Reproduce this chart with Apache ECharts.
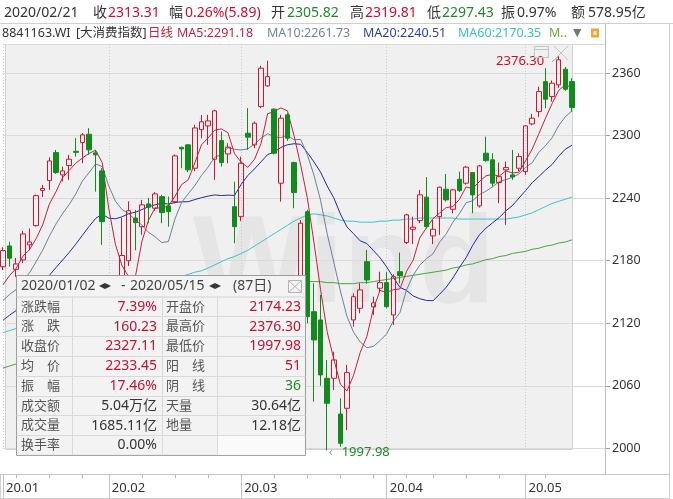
<!DOCTYPE html>
<html><head><meta charset="utf-8">
<script src="https://cdn.jsdelivr.net/npm/echarts@6/dist/echarts.min.js"></script>
<style>html,body{margin:0;padding:0;background:#fff}#c{width:673px;height:499px}</style>
</head><body><div id="c"></div>
<script>
// ---------- DATA ----------
const dates = [
 '2020-01-02','2020-01-03','2020-01-06','2020-01-07','2020-01-08','2020-01-09','2020-01-10','2020-01-13','2020-01-14','2020-01-15',
 '2020-01-16','2020-01-17','2020-01-20','2020-01-21','2020-01-22','2020-01-23',
 '2020-02-03','2020-02-04','2020-02-05','2020-02-06','2020-02-07','2020-02-10','2020-02-11','2020-02-12','2020-02-13','2020-02-14',
 '2020-02-17','2020-02-18','2020-02-19','2020-02-20','2020-02-21','2020-02-24','2020-02-25','2020-02-26','2020-02-27','2020-02-28',
 '2020-03-02','2020-03-03','2020-03-04','2020-03-05','2020-03-06','2020-03-09','2020-03-10','2020-03-11','2020-03-12','2020-03-13',
 '2020-03-16','2020-03-17','2020-03-18','2020-03-19','2020-03-20','2020-03-23','2020-03-24','2020-03-25','2020-03-26','2020-03-27',
 '2020-03-30','2020-03-31',
 '2020-04-01','2020-04-02','2020-04-03','2020-04-07','2020-04-08','2020-04-09','2020-04-10','2020-04-13','2020-04-14','2020-04-15',
 '2020-04-16','2020-04-17','2020-04-20','2020-04-21','2020-04-22','2020-04-23','2020-04-24','2020-04-27','2020-04-28','2020-04-29',
 '2020-04-30',
 '2020-05-06','2020-05-07','2020-05-08','2020-05-11','2020-05-12','2020-05-13','2020-05-14','2020-05-15'
];
const opens = [
 2174.23,2194.2,2171.8,2180.8,2195.2,2213.7,2247.5,2256.9,2283.8,2262.4,
 2271.3,2285,2293.4,2301.4,2283.5,2266.2,2040,2070,2125,2180,
 2221,2212.7,2234.5,2230.4,2241.5,2232.6,2236.7,2288.8,2291.2,2268.8,
 2305.82,2309.4,2277.4,2295.3,2282.5,2231.9,2222.3,2302.4,2291.2,2327.9,
 2347.8,2325.5,2254.4,2320,2274.2,2160,2227.1,2131.1,2123.2,2067.2,
 2067.2,2032.9,2038.4,2123.2,2134.4,2179.1,2135.7,2153.6,2159,2128,
 2169.5,2197.4,2210.2,2218.5,2241,2203.8,2222.3,2248.6,2229.4,2258.2,
 2254.4,2264.6,2232.6,2283.2,2276.8,2255,2267.2,2262.4,2268.8,2265.5,
 2311.3,2323.1,2351.9,2337.5,2348.8,2363.8,2351.9
];
const closes = [
 2189.7,2182.4,2176.9,2205.7,2198,2242.5,2249.4,2275.8,2264.6,2266.2,
 2277.4,2284,2300.8,2286.4,2281.6,2217.5,2062,2130,2185,2228,
 2216.6,2233.6,2231.4,2244.1,2226.2,2227.1,2280.6,2287.3,2267.2,2307.42,
 2313.31,2314.2,2323.8,2274.2,2289,2212.7,2273.6,2298.6,2312,2364.8,
 2356.7,2283.2,2316.8,2297.6,2245.4,2216,2126.3,2104,2070.4,2043.2,
 2084.8,2004.8,2072.6,2145.5,2152,2161.6,2139.5,2159,2135.9,2164.7,
 2165.7,2224,2212.2,2243.2,2212.7,2210.2,2250.6,2238.4,2248,2247.3,
 2269.8,2243.2,2271,2276.1,2254.4,2260.7,2269.4,2260.4,2280,2309.4,
 2316.8,2342.3,2335,2350.4,2372.8,2344.6,2327.11
];
const lows = [
 2171,2174.3,2164.5,2177.9,2190,2212.7,2241.2,2248,2263.3,2256,
 2257.6,2279.9,2273.6,2281.6,2246.3,2195.2,2030,2060,2118,2175,
 2190,2205,2216,2228,2216,2212.7,2235,2268.8,2265,2266,
 2297.43,2291.2,2257.6,2270.3,2273.6,2196.8,2218,2286.4,2288,2326.4,
 2347,2282,2236.7,2295,2230.4,2150,2120,2044.7,2060,1997.98,
 2056,2001.5,2017.6,2116.7,2129.6,2158,2128,2150,2134.4,2118.4,
 2158.4,2196,2196.1,2216,2211,2196,2204.8,2236.7,2225.6,2246,
 2253,2225.6,2231,2275,2251.1,2235.2,2214.4,2257.6,2266,2262.4,
 2310,2317.8,2326.4,2332.7,2346,2343,2323.1
];
const highs = [
 2193,2198.3,2182.7,2208.6,2211,2243.5,2252.8,2279.3,2286.4,2270.3,
 2281.6,2297.6,2302.5,2307.2,2286.4,2268.8,2075,2135,2221,2237,
 2228.8,2238.4,2240.3,2246,2243.2,2241.5,2282,2289.5,2292,2310.4,
 2319.81,2320,2324.8,2303.9,2292.8,2255.9,2280,2326.4,2313.6,2367,
 2372,2326.4,2320,2321.6,2275,2219,2229,2158.4,2147.2,2084.8,
 2092.7,2048,2080,2148.8,2158.4,2190.4,2145.5,2169.5,2169.5,2167,
 2187.8,2225,2222.3,2248,2260.2,2219.2,2251,2263.3,2249,2265.5,
 2271,2265,2272,2299.1,2283.2,2274.2,2275.2,2286.4,2283,2310,
 2320.9,2347.1,2364.8,2353,2376.3,2366,2355.2
];
// closes of the 19 sessions before 2020-01-02 (estimated from where the MA lines start)
const prevCloses = [2085,2088,2092,2096,2100,2102,2108,2115,2122,2132,2124,2130,2118,2126,2136,2138,2142,2148,2166.88];
// MA60 (cyan) and M.. (green) lines
const ma60 = [
 2111,2113,2115,2117,2119,2121,2123,2126,2128,2131,2133,2136,2138,2141,2143,2145,2144,2145,2147,2149,
 2151,2153,2155,2157,2159,2161,2163,2165,2167,2169,2170.35,2173,2176,2179,2182,2184,2187,2190,2194,2198,
 2202,2206,2210,2214,2218,2221,2224,2225,2224,2223,2221,2219,2218,2218,2217,2217,2217,2218,2218,2219,
 2219,2220,2220,2221,2221,2221,2221,2221,2221,2220,2220,2220,2220,2220,2220,2220,2220,2221,2222,2224,
 2226,2229,2232,2235,2237,2239,2241
];
const ma120 = [
 2077,2079,2081,2083,2085,2087,2089,2091,2093,2095,2097,2099,2101,2103,2105,2107,2108,2109,2111,2113,
 2115,2117,2119,2121,2123,2125,2127,2129,2131,2133,2135,2137,2139,2141,2143,2145,2147,2149,2151,2153,
 2155,2156,2157,2158,2159,2160,2160,2160,2160,2159,2159,2158,2158,2158,2159,2159,2160,2161,2162,2163,
 2164,2165,2166,2167,2168,2169,2170,2171,2173,2174,2176,2177,2179,2181,2182,2184,2185,2187,2188,2189,
 2191,2192,2194,2195,2197,2198,2200
];
const padSlots = ['p1','p2','p3','p4','p5'];
const monthTickLabels = ['20.01','20.02','20.03','20.04','20.05'];

const headerDate = '2020/02/21';
const headerLabels = ['收','幅','开','高','低','振','额'];
const headerValues = ['2313.31','0.26%(5.89)','2305.82','2319.81','2297.43','0.97%','578.95亿'];
const headerTones  = ['up','up','down','up','down','flat','flat'];

const legendTexts = ['8841163.WI','[大消费指数]','日线','MA5:2291.18','MA10:2261.73','MA20:2240.51','MA60:2170.35','M..'];

const statsRange = ['2020/01/02','2020/05/15','(87日)'];
const statsLeftLabels  = ['涨跌幅','涨\u3000跌','收盘价','均\u3000价','振\u3000幅','成交额','成交量','换手率'];
const statsLeftValues  = ['7.39%','160.23','2327.11','2233.45','17.46%','5.04万亿','1685.11亿','0.00%'];
const statsLeftTones   = ['up','up','up','up','up','flat','flat','flat'];
const statsRightLabels = ['开盘价','最高价','最低价','阳\u3000线','阴\u3000线','天量','地量',''];
const statsRightValues = ['2174.23','2376.30','1997.98','51','36','30.64亿','12.18亿',''];
const statsRightTones  = ['up','up','up','up','down','flat','flat','flat'];

// ---------- STYLE / LAYOUT ----------
const FONT = '"Noto Sans", "Noto Sans CJK SC", sans-serif';
const RED = '#d3142f', GREEN = '#138a1e';
const TONE = {up:'#c8102e', down:'#1f8a2a', flat:'#333333'};
const LINE_COLORS = {ma5:'#c4213c', ma10:'#6b8099', ma20:'#1f2b9e', ma60:'#3fc3c9', ma120:'#4aa43f'};
const LEGEND_COLORS = ['#333','#333','#cc2233',LINE_COLORS.ma5,'#6c85a0','#2a3fb0','#3cc0c0','#6aaa3a'];
const LEGEND_X = [2,76,148,177,267,363,458,549];
const HEADER_LABEL_X = [93,169,271,350,427,501,571];
const HEADER_VALUE_X = [108,185,287,365,442,517,588];
const Y_MIN = 2000, Y_MAX = 2388;

// ---------- derived ----------
const allCats = dates.concat(padSlots);
const candles = opens.map((o,i)=>[o, closes[i], lows[i], highs[i]]);
function movingAverage(n){
  const all = prevCloses.concat(closes);
  return closes.map((c,i)=>{
    const end = prevCloses.length + i + 1;
    const s = all.slice(end-n, end);
    return +(s.reduce((a,b)=>a+b,0)/n).toFixed(2);
  });
}
const ma5 = movingAverage(5), ma10 = movingAverage(10), ma20 = movingAverage(20);
const monthStartIdx = dates.map((d,i)=> (i===0 || d.slice(0,7)!==dates[i-1].slice(0,7)) ? i : -1).filter(i=>i>=0);
const weekStartIdx = dates.map((d,i)=>{
  if(i===0) return -1;
  const a = new Date(dates[i-1]+'T00:00:00Z'), b = new Date(d+'T00:00:00Z');
  return (b.getUTCDay() <= a.getUTCDay() || (b-a) > 6*864e5) ? i : -1;
}).filter(i=>i>=0 && monthStartIdx.indexOf(i)<0);
const hiIdx = highs.indexOf(Math.max(...highs));
const loIdx = lows.indexOf(Math.min(...lows));

// ---------- graphic decorations ----------
const G = [];
function line(x1,y1,x2,y2,stroke,z,dash){G.push({type:'line',silent:true,z:z||50,shape:{x1,y1,x2,y2},style:{stroke,lineWidth:1,lineDash:dash||null}});}
function rect(x,y,w,h,fill,stroke,z){G.push({type:'rect',silent:true,z:z||50,shape:{x,y,width:w,height:h},style:{fill:fill||'none',stroke:stroke||null,lineWidth:1}});}
function text(t,x,y,color,size,align,z,extra){G.push({type:'text',silent:true,z:z||50,x,y,style:Object.assign({text:t,fill:color,fontSize:size,fontFamily:FONT,align:align||'left',verticalAlign:'middle'},extra||{})});}

// grey selection panel + watermark (behind everything)
rect(5.5,44.5,567,405,'#f0f0f0','#d2d2d2',-10);
G.push({type:'text',silent:true,z:-5,x:193,y:268,style:{text:'Wind',fill:'#e5e5e5',fontSize:124,fontWeight:'bold',fontFamily:'"Liberation Sans", Arial, sans-serif',align:'left',verticalAlign:'middle'}});
// panel icons
rect(534.5,46.5,14,11,'none','#c4c4c4',6);
line(534.5,49.5,548.5,49.5,'#c4c4c4',6);
line(554,46,568,60,'#c4c4c4',6); line(568,46,554,60,'#c4c4c4',6);

// frame
line(0,23.5,673,23.5,'#cfcfcf');
line(605.5,23.5,605.5,474.5,'#bdbdbd');
line(669.5,23.5,669.5,498.5,'#cfcfcf');
line(0,474.5,669.5,474.5,'#c4c4c4');
line(0,498.5,669.5,498.5,'#cfcfcf');
line(0.5,474.5,0.5,498.5,'#cfcfcf');

// header row
text(headerDate,4,13,'#333',14);
headerLabels.forEach((l,i)=>{
  text(l,HEADER_LABEL_X[i],13,'#333',14);
  text(headerValues[i],HEADER_VALUE_X[i],13,TONE[headerTones[i]],14);
});
// legend row
legendTexts.forEach((t,i)=> text(t,LEGEND_X[i],33,LEGEND_COLORS[i],12.5));
text('▼',573,33,'#777',11,'left',50,{fontFamily:'"DejaVu Sans", sans-serif'});
rect(591,28.5,8,9,'#f2a531',null);
rect(593.5,31,3,4,'#fff5dd',null);

// stats box
const BX0=16, BX1=305, BY0=275, TH=21.5, RH=19.8;
const COLX=[16,71.7,161.7,216.7,305];
const ZB=100;
rect(BX0+0.5,BY0+0.5,BX1-BX0,TH+RH*8,'#f3f3f3','#9c9c9c',ZB);
rect(216.7,BY0+TH+RH*7+0.5,BX1-216.7,RH-0.5,'#fafafa',null,ZB+1);
line(BX0+0.5,BY0+TH+0.5,BX1+0.5,BY0+TH+0.5,'#d3d3d3',ZB+2);
for(let r=1;r<8;r++){ const y=Math.round(BY0+TH+RH*r)+0.5; line(BX0+0.5,y,BX1+0.5,y,'#d9d9d9',ZB+2); }
for(let c=1;c<4;c++){ const x=Math.round(COLX[c])+0.5; line(x,BY0+TH,x,BY0+TH+RH*8,'#d9d9d9',ZB+2); }
text(statsRange[0],21,286,'#444',14,'left',ZB+3);
text('◂▸',99,286,'#333',12,'left',ZB+3,{fontFamily:'"DejaVu Sans", sans-serif'});
text('-',121,286,'#444',14,'left',ZB+3);
text(statsRange[1],130,286,'#444',14,'left',ZB+3);
text('◂▸',209,286,'#333',12,'left',ZB+3,{fontFamily:'"DejaVu Sans", sans-serif'});
text(statsRange[2],233,286,'#444',14,'left',ZB+3);
rect(288.5,280.5,13,12,'none','#b4b4b4',ZB+3);
line(289,281,301,292,'#b4b4b4',ZB+3); line(301,281,289,292,'#b4b4b4',ZB+3);
for(let r=0;r<8;r++){
  const y = BY0+TH+RH*r+RH/2+0.5;
  text(statsLeftLabels[r],21,y,'#555',13,'left',ZB+3);
  text(statsLeftValues[r],157,y,TONE[statsLeftTones[r]],14,'right',ZB+3);
  if(statsRightLabels[r]) text(statsRightLabels[r],166,y,'#555',13,'left',ZB+3);
  if(statsRightValues[r]) text(statsRightValues[r],301,y,TONE[statsRightTones[r]],14,'right',ZB+3);
}

// ---------- chart ----------
const chart = echarts.init(document.getElementById('c'), null, {renderer:'canvas'});
const maSeries = [['ma120',ma120],['ma60',ma60],['ma20',ma20],['ma10',ma10],['ma5',ma5]].map(([k,d])=>({
  type:'line', name:k, data:d, symbol:'none', silent:true, z:3, animation:false,
  lineStyle:{width:1,color:LINE_COLORS[k]}, itemStyle:{color:LINE_COLORS[k]}
}));
chart.setOption({
  animation:false,
  grid:{left:3, right:68, top:44, bottom:50.7, containLabel:false, outerBoundsMode:'none'},
  xAxis:[
    {type:'category', data:allCats, boundaryGap:false, position:'bottom', offset:26,
     axisLine:{show:false},
     axisTick:{show:true, interval:(i)=>weekStartIdx.indexOf(i)>=0, length:4, lineStyle:{color:'#b5b5b5'}},
     axisLabel:{show:true, interval:(i)=>monthStartIdx.indexOf(i)>=0,
       formatter:(v,i)=>monthTickLabels[monthStartIdx.indexOf(i)]||'',
       align:'left', padding:[0,0,0,3], margin:7, color:'#333', fontSize:13, fontFamily:FONT},
     splitLine:{show:false}},
    {type:'category', data:allCats, boundaryGap:false, position:'bottom', offset:26,
     axisLine:{show:false}, axisLabel:{show:false},
     axisTick:{show:true, interval:(i)=>monthStartIdx.indexOf(i)>=0, length:24, lineStyle:{color:'#c4c4c4'}},
     splitLine:{show:true, interval:(i)=>monthStartIdx.indexOf(i)>=0, lineStyle:{color:'#cbcbcb', type:[1,2]}}}
  ],
  yAxis:{type:'value', position:'right', min:Y_MIN, max:Y_MAX, interval:60, scale:true,
    axisLine:{show:false},
    axisTick:{show:true, length:5, lineStyle:{color:'#a0a0a0'}},
    axisLabel:{margin:7, color:'#333', fontSize:12.5, fontFamily:FONT, showMaxLabel:false, formatter:(v)=>String(v)},
    splitLine:{show:true, lineStyle:{color:'#dadada'}}},
  series: maSeries.concat([{
    type:'candlestick', name:'K', data:candles, barWidth:5, clip:false, z:5, silent:true,
    itemStyle:{color:'rgba(0,0,0,0)', color0:GREEN, borderColor:RED, borderColor0:GREEN, borderWidth:1},
    markPoint:{symbol:'circle', symbolSize:1, itemStyle:{color:'rgba(0,0,0,0)'}, silent:true, animation:false,
      data:[
        {coord:[dates[hiIdx], highs[hiIdx]], value:highs[hiIdx],
         label:{show:true, position:'left', distance:14, offset:[0,5], formatter:highs[hiIdx].toFixed(2), color:'#c8102e', fontSize:13, fontFamily:FONT}},
        // the low sits just under the axis floor; anchor at the floor so the marker is not filtered out
        {coord:[dates[loIdx], Math.max(lows[loIdx], Y_MIN)], value:lows[loIdx],
         label:{show:true, position:'right', distance:1, offset:[0,4], formatter:'{a|‹}{b|'+lows[loIdx].toFixed(2)+'}',
           rich:{a:{color:'#9aa6b0', fontSize:13, fontFamily:FONT, padding:[0,9,0,0]}, b:{color:'#1f8a2a', fontSize:13, fontFamily:FONT}}}}
      ]},
    markLine:{symbol:['none','none'], silent:true, animation:false, label:{show:false},
      lineStyle:{color:'#a8a8a8', width:1, type:'solid'},
      data:[[{coord:[dates[hiIdx-1], highs[hiIdx]-5.5]},{coord:[dates[hiIdx], highs[hiIdx]]}]]}
  }]),
  graphic:{elements:G}
});
</script></body></html>
